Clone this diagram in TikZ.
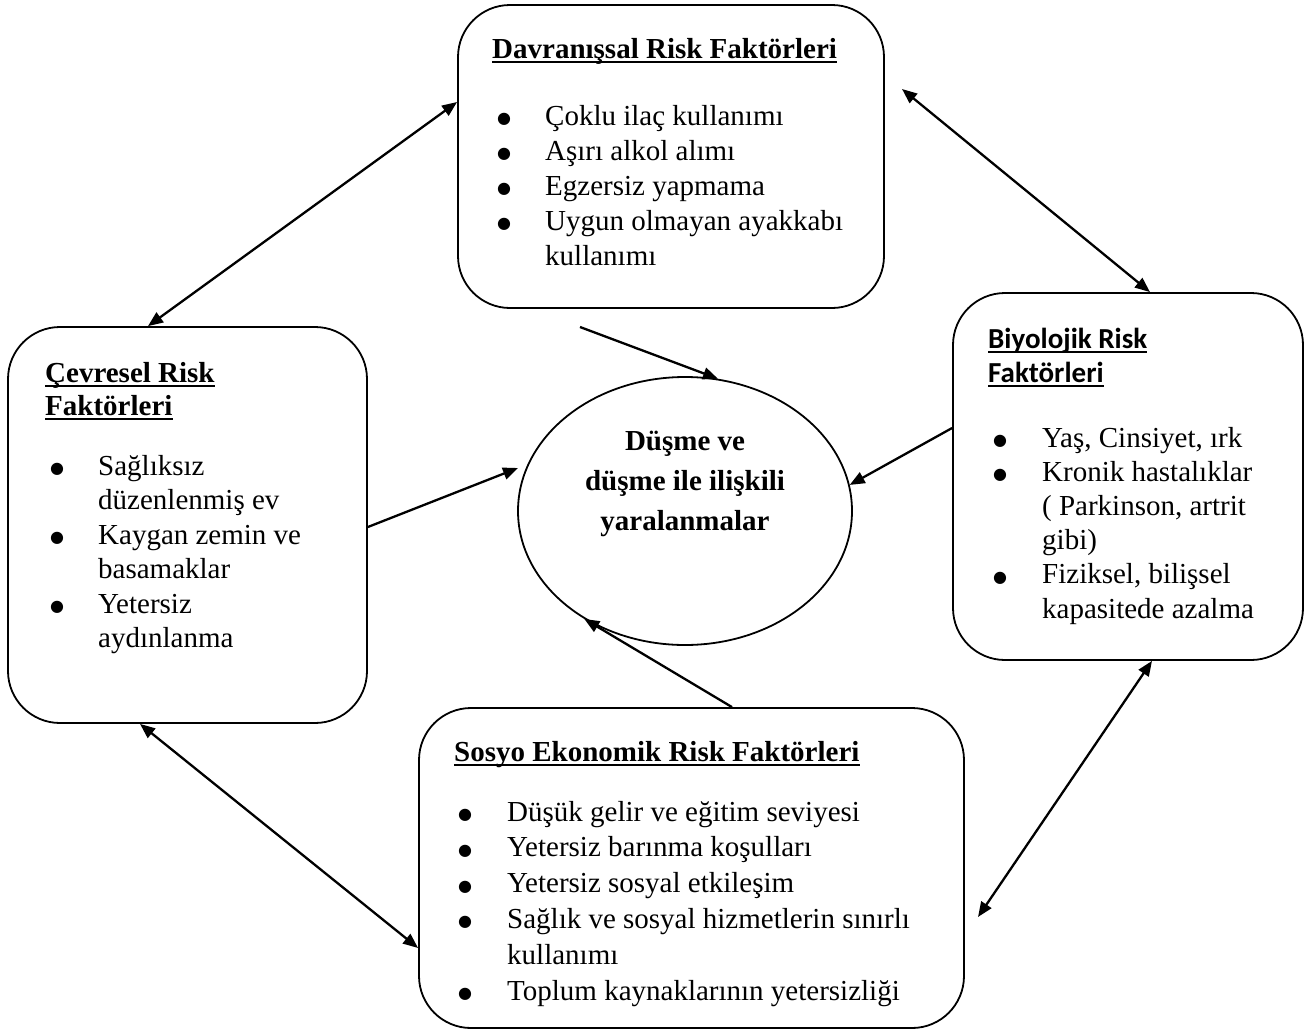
\documentclass[tikz,border=0pt]{standalone}
\usepackage{fontspec}
\setmainfont{Liberation Serif}
\newfontfamily\calibri{Carlito}
\newfontfamily\djv{DejaVu Sans}
\newcommand\blt{\raisebox{1.5pt}{\djv\fontsize{16}{16}\selectfont ●}}
\usetikzlibrary{arrows.meta,shapes.geometric}
\begin{document}
\begin{tikzpicture}[x=1pt,y=-1pt,
  box/.style={draw, line width=1.8pt, rounded corners=52pt, inner sep=0pt},
  lst/.style={inner sep=0pt, anchor=base west},
  ttl/.style={inner sep=0pt, anchor=base west, font=\fontsize{29}{35}\selectfont\bfseries},
  uline/.style={line width=2pt},
  tip/.tip={Triangle[length=15pt,width=12pt]},
  conn/.style={line width=2.3pt, -tip},
  dconn/.style={line width=2.3pt, tip-tip},
]
\useasboundingbox (0,0) rectangle (1315,1034);

% boxes
\node[box, minimum width=426pt, minimum height=303pt] (top) at (671,156.5) {};
\node[box, minimum width=359pt, minimum height=396pt] (left) at (187.5,525) {};
\node[box, minimum width=350pt, minimum height=367pt] (right) at (1128,476.5) {};
\node[box, minimum width=545pt, minimum height=320pt] (bottom) at (691.5,868) {};
\node[draw, ellipse, line width=1.8pt, inner sep=0pt, minimum width=334pt, minimum height=268pt] (el) at (685,511) {};

% titles
\node[ttl] (ttop) at (492,58) {Davranışsal Risk Faktörleri};
\node[ttl] (tleft1) at (45,382) {Çevresel Risk};
\node[ttl] (tleft2) at (45,415) {Faktörleri};
\node[ttl, font=\fontsize{29}{35}\calibri\bfseries] (tright1) at (988,348) {Biyolojik Risk};
\node[ttl, font=\fontsize{29}{35}\calibri\bfseries] (tright2) at (988,382) {Faktörleri};
\node[ttl] (tbottom) at (454,761) {Sosyo Ekonomik Risk Faktörleri};
\foreach \t in {ttop,tleft1,tleft2,tright1,tright2,tbottom}{
  \draw[uline] ([yshift=-4pt]\t.base west) -- ([yshift=-4pt]\t.base east);
}

% lists
\node[lst, font=\fontsize{29}{35}\selectfont] (ltop) at (497,125) {%
\begin{tabular}[t]{@{}p{48pt}@{}l@{}}
\blt & Çoklu ilaç kullanımı\\
\blt & Aşırı alkol alımı\\
\blt & Egzersiz yapmama\\
\blt & Uygun olmayan ayakkabı\\
  & kullanımı
\end{tabular}};
\node[lst, font=\fontsize{29}{34.5}\selectfont] (lleft) at (50,475) {%
\begin{tabular}[t]{@{}p{48pt}@{}l@{}}
\blt & Sağlıksız\\
  & düzenlenmiş ev\\
\blt & Kaygan zemin ve\\
  & basamaklar\\
\blt & Yetersiz\\
  & aydınlanma
\end{tabular}};
\node[lst, font=\fontsize{29}{34.2}\selectfont] (lright) at (993,447) {%
\begin{tabular}[t]{@{}p{49pt}@{}l@{}}
\blt & Yaş, Cinsiyet, ırk\\
\blt & Kronik hastalıklar\\
  & ( Parkinson, artrit\\
  & gibi)\\
\blt & Fiziksel, bilişsel\\
  & kapasitede azalma
\end{tabular}};
\node[lst, font=\fontsize{29}{35.8}\selectfont] (lbottom) at (458,821) {%
\begin{tabular}[t]{@{}p{49pt}@{}l@{}}
\blt & Düşük gelir ve eğitim seviyesi\\
\blt & Yetersiz barınma koşulları\\
\blt & Yetersiz sosyal etkileşim\\
\blt & Sağlık ve sosyal hizmetlerin sınırlı\\
  & kullanımı\\
\blt & Toplum kaynaklarının yetersizliği
\end{tabular}};

% centre text
\node[inner sep=0pt, anchor=base, font=\fontsize{29}{40}\selectfont\bfseries] (ctext) at (685,450) {%
\begin{tabular}[t]{@{}c@{}}
Düşme ve\\
düşme ile ilişkili\\
yaralanmalar
\end{tabular}};

% free arrow ends
\coordinate (a2) at (902,89);
\coordinate (a4) at (978,917);
\coordinate (s1) at (580,327);
\coordinate (s2) at (518,468);

% double arrows
\draw[dconn] (top.west |- 0,102) -- (148,0 |- left.north);
\draw[dconn] (a2) -- (1150,0 |- right.north);
\draw[dconn] (140,0 |- left.south) -- (bottom.west |- 0,948);
\draw[dconn] (1152,0 |- right.south) -- (a4);

% single arrows into the ellipse
\draw[conn] (s1) -- (el.76);
\draw[conn] (left.east |- 0,527) -- (s2);
\draw[conn] (right.west |- 0,428) -- (el.9);
\draw[conn] (732,0 |- bottom.north) -- (el.227);
\end{tikzpicture}
\end{document}
